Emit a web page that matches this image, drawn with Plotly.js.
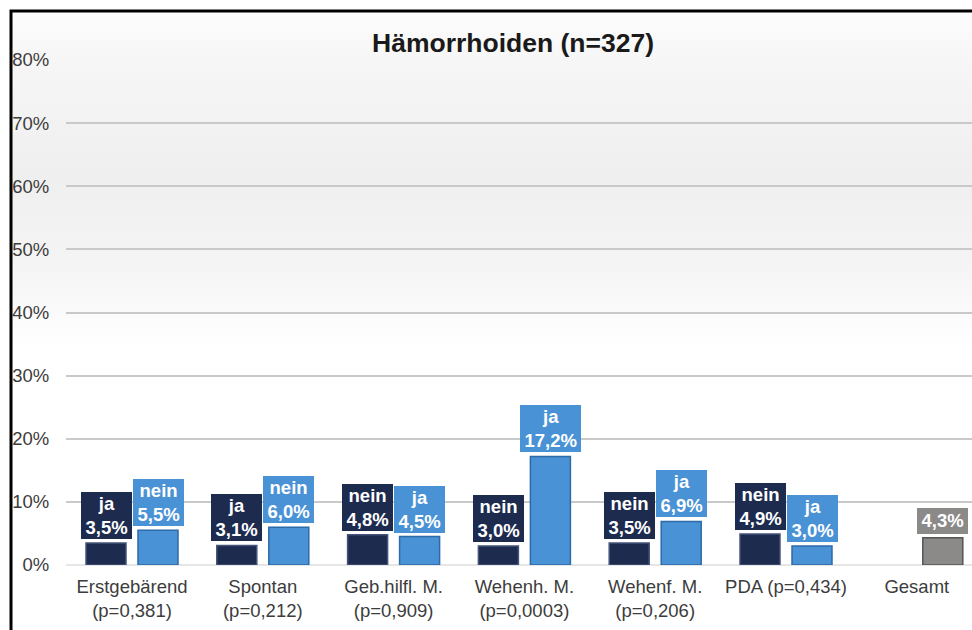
<!DOCTYPE html>
<html>
<head>
<meta charset="utf-8">
<script src="https://cdn.plot.ly/plotly-3.0.1.min.js"></script>
<style>html,body{margin:0;padding:0;background:#fff;}#chart{width:972px;height:630px;}</style>
</head>
<body>
<div id="chart"></div>
<script>
// ---- data ----
const categories = ["Erstgebärend<br>(p=0,381)", "Spontan<br>(p=0,212)", "Geb.hilfl. M.<br>(p=0,909)", "Wehenh. M.<br>(p=0,0003)", "Wehenf. M.<br>(p=0,206)", "PDA (p=0,434)", "Gesamt"];
const darkLabels = ["ja", "ja", "nein", "nein", "nein", "nein"];
const darkValues = [3.5, 3.1, 4.8, 3.0, 3.5, 4.9];
const lightLabels = ["nein", "nein", "ja", "ja", "ja", "ja"];
const lightValues = [5.5, 6.0, 4.5, 17.2, 6.9, 3.0];
const totalLabel = "Gesamt";
const totalValue = [4.3];
const yTickVals = [0, 10, 20, 30, 40, 50, 60, 70, 80];
const yTickText = ["0%", "10%", "20%", "30%", "40%", "50%", "60%", "70%", "80%"];

// ---- styling ----
const W = 972, H = 630;
const M = {l: 66, r: 0, t: 60, b: 65};
const pw = W - M.l - M.r, ph = H - M.t - M.b;
const pxPerCat = 130.8;
const xr0 = -(132 - M.l) / pxPerCat, xr1 = xr0 + pw / pxPerCat;
const barW = 40 / pxPerCat, darkOff = -46 / pxPerCat, lightOff = 6 / pxPerCat;
const cDark = "#1d2b4f", cLight = "#4a92d6", cGrey = "#8c8a89";
const fontFam = "Liberation Sans, Arial, sans-serif";
const fmt = v => v.toFixed(1).replace(".", ",") + "%";

const idx = darkValues.map((_, i) => i);
const totalIdx = categories.indexOf(totalLabel);

const traces = [
  {type: "bar", x: idx, y: darkValues, offset: darkOff, width: barW,
   marker: {color: cDark, line: {color: "#44537a", width: 1.5}}, hoverinfo: "skip"},
  {type: "bar", x: idx, y: lightValues, offset: lightOff, width: barW,
   marker: {color: cLight, line: {color: "#2c6aa8", width: 1.5}}, hoverinfo: "skip"},
  {type: "bar", x: [totalIdx], y: totalValue, offset: lightOff, width: barW,
   marker: {color: cGrey, line: {color: "#555", width: 1.5}}, hoverinfo: "skip"}
];

// text measuring for label boxes
const cv = document.createElement("canvas").getContext("2d");
const lblSize = 18.5;
cv.font = "bold " + lblSize + "px " + fontFam;
function box(lines, x, y, bg) {
  const w = Math.max(...lines.map(s => cv.measureText(s).width)) + 9;
  const h = lines.length * 21.5 + 4;
  return {x: x, y: y, xref: "x", yref: "y", text: lines.join("<br>"), showarrow: false,
    xanchor: "center", yanchor: "bottom", yshift: 4, bgcolor: bg, width: w, height: h,
    borderpad: 0, borderwidth: 0, align: "center", valign: "middle",
    font: {family: fontFam, size: lblSize, color: "#ffffff", weight: "bold"}};
}
const annotations = [];
idx.forEach(i => {
  annotations.push(box([darkLabels[i], fmt(darkValues[i])], i + darkOff + barW / 2, darkValues[i], cDark));
  annotations.push(box([lightLabels[i], fmt(lightValues[i])], i + lightOff + barW / 2, lightValues[i], cLight));
});
annotations.push(box([fmt(totalValue[0])], totalIdx + lightOff + barW / 2, totalValue[0], cGrey));

// background gradient strips + frame (pixel -> paper)
const px2x = p => (p - M.l) / pw;
const px2y = p => (H - M.b - p) / ph;
const shapes = [];
function lerp(a, b, t) { return Math.round(a + (b - a) * t); }
const stops = [[10, 252], [60, 246], [170, 239], [260, 244], [345, 255]];
for (let p = 10; p < 345; p += 4) {
  let c = 255;
  for (let k = 0; k < stops.length - 1; k++) {
    if (p >= stops[k][0] && p <= stops[k + 1][0]) {
      c = lerp(stops[k][1], stops[k + 1][1], (p - stops[k][0]) / (stops[k + 1][0] - stops[k][0]));
    }
  }
  shapes.push({type: "rect", xref: "paper", yref: "paper", layer: "below",
    x0: px2x(10), x1: px2x(W + 5), y0: px2y(p), y1: px2y(p + 4.5),
    fillcolor: "rgb(" + c + "," + c + "," + c + ")", line: {width: 0}});
}
shapes.push({type: "path", xref: "paper", yref: "paper", layer: "above",
  path: "M " + px2x(11) + "," + px2y(H + 5) + " L " + px2x(11) + "," + px2y(11) + " L " + px2x(W + 5) + "," + px2y(11),
  line: {color: "#000", width: 3}});

const layout = {
  width: W, height: H, margin: M, showlegend: false, barmode: "overlay",
  paper_bgcolor: "#ffffff", plot_bgcolor: "rgba(0,0,0,0)",
  title: {text: "<b>Hämorrhoiden (n=327)</b>", xref: "container", yref: "container",
    x: 513 / W, y: 1 - 43 / H, xanchor: "center", yanchor: "middle",
    font: {family: fontFam, size: 26.5, color: "#1a1a1a"}},
  xaxis: {range: [xr0, xr1], tickvals: categories.map((_, i) => i), ticktext: categories,
    showgrid: false, zeroline: false, showline: false, ticks: "outside", ticklen: 5,
    tickcolor: "rgba(0,0,0,0)", tickfont: {family: fontFam, size: 18.5, color: "#3c3c3c"}, fixedrange: true},
  yaxis: {range: [0, 80], tickvals: yTickVals, ticktext: yTickText, showgrid: true,
    gridcolor: "#c9c9c9", gridwidth: 2, zeroline: true, zerolinecolor: "#e6e6e6", zerolinewidth: 2,
    showline: false, ticks: "outside", ticklen: 12, tickcolor: "rgba(0,0,0,0)",
    tickfont: {family: fontFam, size: 18.5, color: "#3c3c3c"}, fixedrange: true},
  annotations: annotations, shapes: shapes
};
Plotly.newPlot("chart", traces, layout, {displayModeBar: false, staticPlot: true});
</script>
</body>
</html>
